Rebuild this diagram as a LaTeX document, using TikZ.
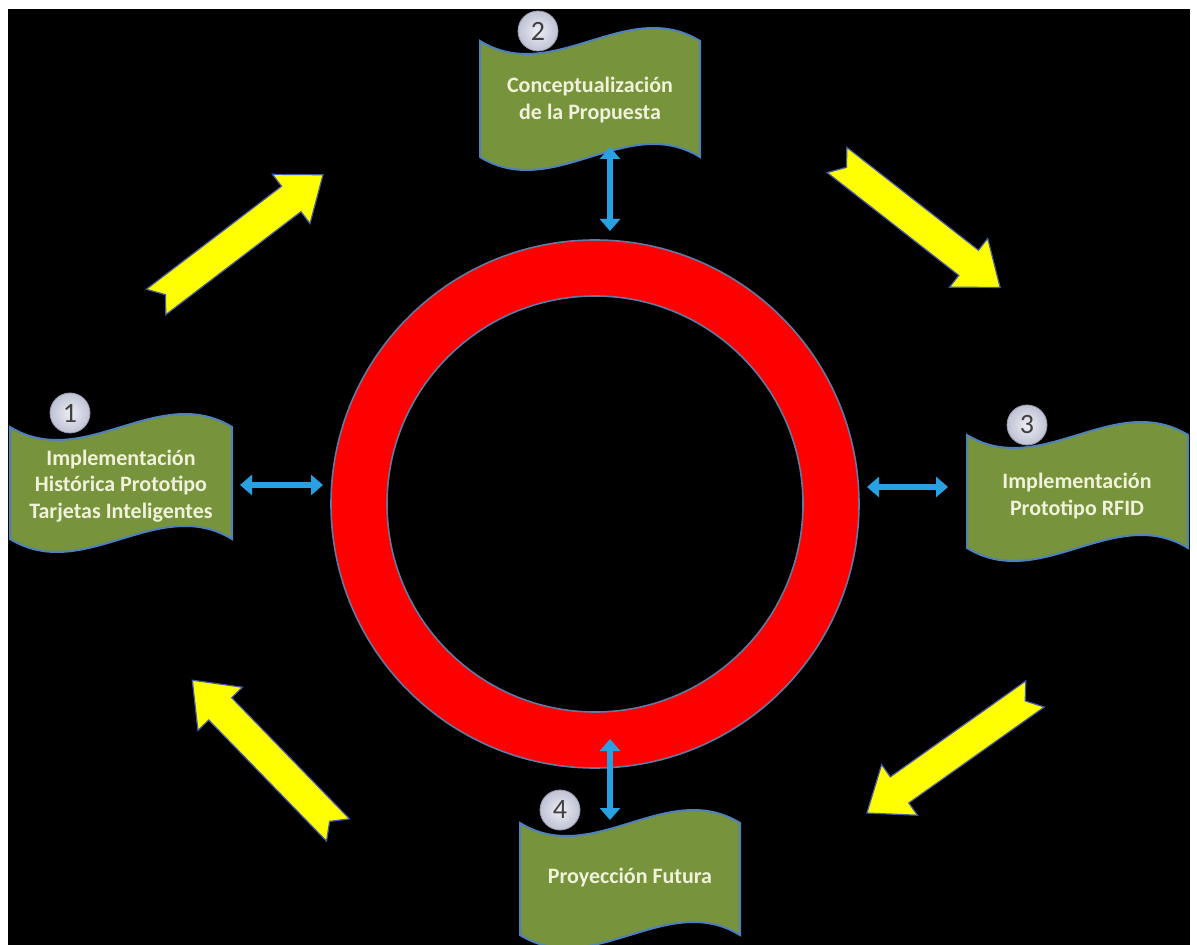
\documentclass[tikz,border=0pt]{standalone}
\usepackage{fontspec}
\setmainfont{Carlito}
\usetikzlibrary{arrows.meta}

\definecolor{bannergreen}{RGB}{119,147,60}
\definecolor{banneredge}{RGB}{79,129,189}
\definecolor{labeltext}{RGB}{240,242,218}
\definecolor{ringred}{RGB}{255,0,0}
\definecolor{ringedge}{RGB}{100,120,160}
\definecolor{linkblue}{RGB}{40,160,226}
\definecolor{flowyellow}{RGB}{255,255,0}
\definecolor{flowedge}{RGB}{70,90,170}
\definecolor{badgein}{RGB}{238,238,244}
\definecolor{badgeout}{RGB}{190,194,212}
\definecolor{badgetext}{RGB}{64,64,64}

% wave-shaped banner: left, top, right, bottom
\newcommand\wavebanner[4]{%
  \path[bannerbox] (#1,#2)
    .. controls ({#1+(#3-#1)/3},{#2+45}) and ({#1+2*(#3-#1)/3},{#2-45}) .. (#3,#2)
    -- (#3,#4)
    .. controls ({#1+2*(#3-#1)/3},{#4-45}) and ({#1+(#3-#1)/3},{#4+45}) .. (#1,#4)
    -- cycle;}

% notched block arrow: tail centre, direction angle, length
\newcommand\blockarrow[3]{%
  \begin{scope}[shift={#1}, rotate=#2]
    \path[flowarrow] (0,16) -- ({#3-40},16) -- ({#3-40},31) -- (#3,0)
      -- ({#3-40},-31) -- ({#3-40},-16) -- (0,-16) -- (12,0) -- cycle;
  \end{scope}}

\begin{document}
\begin{tikzpicture}[x=0.5pt,y=-0.5pt,
  bannerbox/.style={fill=bannergreen, draw=banneredge, line width=1pt},
  bannertext/.style={text=labeltext, font=\fontsize{11}{13.3}\selectfont\bfseries, align=center, inner sep=0pt},
  badgecircle/.style={circle, minimum size=20pt, inner sep=0pt, draw=badgeout!80!black, line width=0.4pt,
    inner color=badgein, outer color=badgeout, text=badgetext, font=\fontsize{14}{14}\selectfont},
  linkarrow/.style={draw=linkblue, line width=3pt,
    {Triangle[width=10pt,length=6pt]}-{Triangle[width=10pt,length=6pt]}},
  flowarrow/.style={fill=flowyellow, draw=flowedge, line width=0.6pt, line join=miter},
]
\useasboundingbox (0,0) rectangle (1197,945);
\fill[white] (0,0) rectangle (1197,945);
\fill[black] (8,9) rectangle (1190,945);

% central ring
\path[fill=ringred, even odd rule, draw=ringedge, line width=0.8pt]
  (595,504) circle (264) (595,504) circle (208);

% the four stages
\wavebanner{10}{427}{232}{539}
\wavebanner{480}{41}{700}{157}
\wavebanner{967}{435}{1188}{548}
\wavebanner{520}{823}{740}{935}

\node[bannertext] (t1) at (121,486) {Implementación\\Histórica Prototipo\\Tarjetas Inteligentes};
\node[bannertext] (t2) at (590,100) {Conceptualización\\de la Propuesta};
\node[bannertext] (t3) at (1077,496) {Implementación\\Prototipo RFID};
\node[bannertext] (t4) at (630,878) {Proyección Futura};

\node[badgecircle] (n1) at (70,413) {1};
\node[badgecircle] (n2) at (538,31) {2};
\node[badgecircle] (n3) at (1027,425) {3};
\node[badgecircle] (n4) at (560,810) {4};

% links between the stages and the ring
\coordinate (s1) at (240,485);  \coordinate (r1) at (323,485);
\coordinate (s2) at (610,147);  \coordinate (r2) at (610,231);
\coordinate (s3) at (948,487);  \coordinate (r3) at (867,487);
\coordinate (s4) at (610,820);  \coordinate (r4) at (610,739);
\draw[linkarrow] (s1) -- (r1);
\draw[linkarrow] (s2) -- (r2);
\draw[linkarrow] (s3) -- (r3);
\draw[linkarrow] (s4) -- (r4);

% cycle arrows
\blockarrow{(156,302)}{37.3}{210}
\blockarrow{(837,160)}{-38}{207}
\blockarrow{(1035,694)}{215.3}{206}
\blockarrow{(338,830)}{134.2}{209}
\end{tikzpicture}
\end{document}
